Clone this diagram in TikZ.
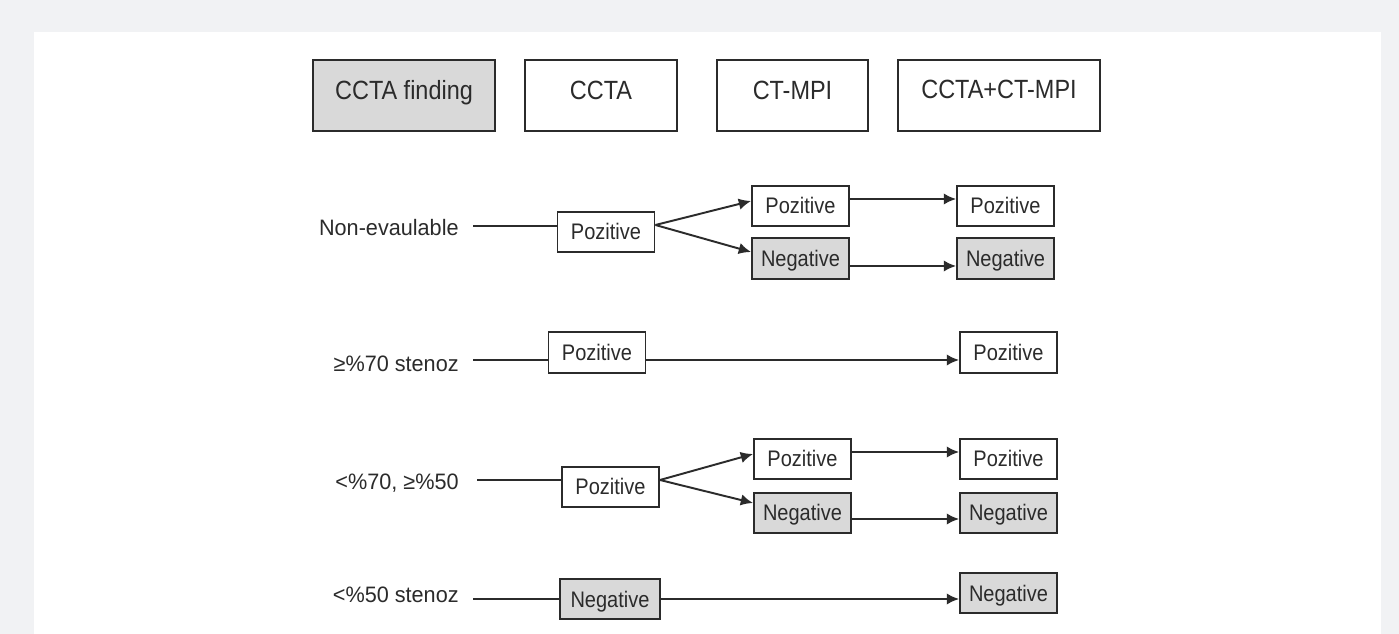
\documentclass[tikz,border=0pt]{standalone}
\usepackage{fontspec}
\setmainfont{Liberation Sans}[FakeStretch=0.89]
\newfontfamily\rowfont{Liberation Sans}[FakeStretch=0.97]
\usetikzlibrary{arrows.meta}
\definecolor{panelgray}{HTML}{F1F2F4}
\definecolor{boxgray}{HTML}{D9D9D9}
\definecolor{inkc}{HTML}{2B2B2B}

\begin{document}
\begin{tikzpicture}
        [x=0.02cm, y=-0.02cm,
        headbox/.style={draw=inkc, line width=1.1pt, minimum height=1.42cm, inner sep=0pt, text height=0.38cm, text depth=0.2cm, text=inkc, font=\fontsize{15}{18}\selectfont},
        box/.style={draw=inkc, line width=1.1pt, minimum width=1.94cm, minimum height=0.81cm, inner sep=0pt, text height=0.32cm, text depth=0pt, text=inkc, font=\fontsize{12.8}{15}\selectfont},
        negbox/.style={box, fill=boxgray},
        rowlabel/.style={anchor=base east, inner sep=0pt, text=inkc, font=\rowfont\fontsize{12.7}{15}\selectfont},
        link/.style={inkc, line width=1.1pt},
        flow/.style={link, -{Latex[length=7pt, width=6.5pt]}}]

        % page and panel
        \fill[panelgray] (0,0) rectangle (1399,634);
        \fill[white] (34,32) rectangle (1381,634);

        % column headers
        \node[headbox, fill=boxgray, minimum width=3.64cm] (hfind) at (404,95.5) {CCTA finding};
        \node[headbox, minimum width=3.04cm] (hccta) at (601,95.5) {CCTA};
        \node[headbox, minimum width=3.02cm] (hmpi) at (792.5,95.5) {CT-MPI};
        \node[headbox, minimum width=4.04cm, text depth=0.24cm] (hboth) at (999,95.5) {CCTA+CT-MPI};

        % non-evaluable
        \node[rowlabel] (l1) at (459,236) {Non-evaulable};
        \node[box] (a1) at (606,232) {Pozitive};
        \node[box] (b1) at (800.5,206) {Pozitive};
        \node[negbox] (c1) at (800.5,258.5) {Negative};
        \node[box] (d1) at (1005.5,206) {Pozitive};
        \node[negbox] (e1) at (1005.5,258.5) {Negative};
        \coordinate (s1) at (473,226);

        \draw[link] (s1) -- (s1 -| a1.west);
        \draw[flow] ([yshift=0.14cm]a1.east) -- ([yshift=0.1cm]b1.west);
        \draw[flow] ([yshift=0.14cm]a1.east) -- ([yshift=0.13cm]c1.west);
        \draw[flow] ([yshift=0.14cm]b1.east) -- ([yshift=0.14cm]b1.east -| d1.west);
        \draw[flow] ([yshift=-0.15cm]c1.east) -- ([yshift=-0.15cm]c1.east -| e1.west);

        % >=70 stenosis
        \node[rowlabel] (l2) at (459,372) {≥\%70 stenoz};
        \node[box] (a2) at (597,352.5) {Pozitive};
        \node[box] (d2) at (1008.5,352.5) {Pozitive};
        \coordinate (s2) at (473,360);

        \draw[link] (s2) -- (s2 -| a2.west);
        \draw[flow] ([yshift=-0.15cm]a2.east) -- ([yshift=-0.15cm]a2.east -| d2.west);

        % 50-70 stenosis
        \node[rowlabel] (l3) at (459,489) {<\%70, ≥\%50};
        \node[box] (a3) at (610.5,487) {Pozitive};
        \node[box] (b3) at (802.5,459) {Pozitive};
        \node[negbox] (c3) at (802.5,513) {Negative};
        \node[box] (d3) at (1008.5,459) {Pozitive};
        \node[negbox] (e3) at (1008.5,513) {Negative};
        \coordinate (s3) at (477,480);

        \draw[link] (s3) -- (s3 -| a3.west);
        \draw[flow] ([yshift=0.14cm]a3.east) -- ([yshift=0.1cm]b3.west);
        \draw[flow] ([yshift=0.14cm]a3.east) -- ([yshift=0.2cm]c3.west);
        \draw[flow] ([yshift=0.14cm]b3.east) -- ([yshift=0.14cm]b3.east -| d3.west);
        \draw[flow] ([yshift=-0.12cm]c3.east) -- ([yshift=-0.12cm]c3.east -| e3.west);

        % <50 stenosis
        \node[rowlabel] (l4) at (459,602) {<\%50 stenoz};
        \node[negbox, minimum width=2cm] (a4) at (610,599) {Negative};
        \node[negbox] (e4) at (1008.5,593) {Negative};
        \coordinate (s4) at (473,599);

        \draw[link] (s4) -- (s4 -| a4.west);
        \draw[flow] (a4.east) -- (a4.east -| e4.west);

        \end{tikzpicture}
\end{document}
